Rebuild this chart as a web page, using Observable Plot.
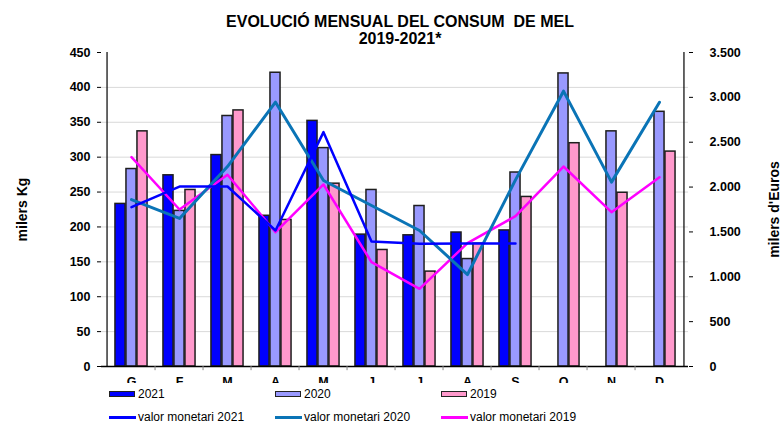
<!DOCTYPE html>
<html>
<head>
<meta charset="utf-8">
<script src="https://cdn.jsdelivr.net/npm/d3@7"></script>
<script src="https://cdn.jsdelivr.net/npm/@observablehq/plot@0.6"></script>
<style>
  body { margin: 0; background: #fff; font-family: "Liberation Sans", Arial, sans-serif; }
  #wrap { position: relative; width: 784px; height: 423px; overflow: hidden; background: #fff; }
  #title { position: absolute; top: 13px; left: 0; width: 800px; text-align: center; font-weight: bold; font-size: 16px; line-height: 17px; z-index: 2; color: #000; }
  #chart { position: absolute; top: 0; left: 0; }
  .lg { position: absolute; font-size: 12px; line-height: 14px; color: #000; white-space: nowrap; }
  .sw { position: absolute; width: 24px; height: 4px; border: 1.5px solid #222; }
  .ln { position: absolute; width: 27px; height: 3px; }
</style>
</head>
<body>
<div id="wrap">
  <div id="title">EVOLUCIÓ MENSUAL DEL CONSUM&nbsp; DE MEL<br>2019-2021*</div>
  <div id="chart"></div>
  <div id="legend"></div>
</div>
<script>
// ---- data ----
const monthLabels = ["G", "F", "M", "A", "M", "J", "J", "A", "S", "O", "N", "D"];
// milers de Kg (left axis)
const kg2021 = [233, 274, 303, 216, 352, 189, 188, 192, 195, null, null, null];
const kg2020 = [283, 223, 359, 421, 313, 253, 230, 154, 278, 420, 337, 365];
const kg2019 = [337, 253, 367, 210, 262, 167, 136, 176, 243, 320, 249, 308];
// milers d'Euros (right axis)
const eur2021 = [1776, 2006, 2006, 1516, 2612, 1393, 1367, 1371, 1371, null, null, null];
const eur2020 = [1861, 1650, 2229, 2946, 2073, 1795, 1516, 1025, 2080, 3069, 2055, 2946];
const eur2019 = [2333, 1750, 2137, 1497, 2029, 1163, 866, 1375, 1676, 2229, 1720, 2110];
const kgTicks = [0, 50, 100, 150, 200, 250, 300, 350, 400, 450];
const eurTicks = [0, 500, 1000, 1500, 2000, 2500, 3000, 3500];

const colors = {b2021: "#0000ff", b2020: "#9999ff", b2019: "#ff99cc", l2021: "#0000ff", l2020: "#0a74b6", l2019: "#ff00ff"};

// ---- layout ----
const W = 784, H = 383, mL = 101, mR = 96, mT = 52, mB = 17;
const bw = (W - mL - mR) / monthLabels.length;
const barW = 11;
const groupPad = (bw - 3 * barW) / 2;
const k = kgTicks[kgTicks.length - 1] / eurTicks[eurTicks.length - 1];
const idx = d3.range(monthLabels.length);

const rows = (arr, scale = 1) => arr.map((v, i) => ({i, v: v == null ? null : v * scale})).filter(d => d.v != null);
const fmtEur = v => d3.format(",")(v).replace(/,/g, ".");

const barOpts = (n, fill) => ({
  x: "i", y: "v", fill, stroke: "#1e1e1e", strokeWidth: 1.5,
  insetLeft: groupPad + n * barW, insetRight: bw - groupPad - (n + 1) * barW
});

const plot = Plot.plot({
  width: W, height: H,
  marginTop: mT, marginBottom: mB, marginLeft: mL, marginRight: mR,
  style: {fontFamily: "'Liberation Sans', Arial, sans-serif", fontSize: "12.5px", fontWeight: "bold", overflow: "hidden", background: "white", color: "#000"},
  x: {type: "band", domain: idx, padding: 0, label: null},
  y: {domain: [0, 450], label: null},
  marks: [
    Plot.gridY(kgTicks.filter(t => t > 0 && t < 450), {stroke: "#d9d9d9", strokeOpacity: 1, strokeWidth: 1}),
    Plot.barY(rows(kg2021), barOpts(0, colors.b2021)),
    Plot.barY(rows(kg2020), barOpts(1, colors.b2020)),
    Plot.barY(rows(kg2019), barOpts(2, colors.b2019)),
    Plot.ruleY([0], {stroke: "#000", strokeWidth: 1.5}),
    Plot.ruleX([0], {x: d => d, dx: -bw / 2, stroke: "#000", strokeWidth: 1.2}),
    Plot.ruleX([idx.length - 1], {x: d => d, dx: bw / 2, stroke: "#000", strokeWidth: 1.2}),
    Plot.ruleX(idx.slice(1), {x: d => d, dx: -bw / 2, y1: 0, y2: -6, stroke: "#888"}),
    Plot.line(rows(eur2019, k), {x: "i", y: "v", stroke: colors.l2019, strokeWidth: 2.5}),
    Plot.line(rows(eur2020, k), {x: "i", y: "v", stroke: colors.l2020, strokeWidth: 3}),
    Plot.line(rows(eur2021, k), {x: "i", y: "v", stroke: colors.l2021, strokeWidth: 2.5}),
    Plot.axisY({anchor: "left", ticks: kgTicks, tickSize: 4, tickPadding: 7, tickFormat: d => d, label: null}),
    Plot.axisY({anchor: "right", ticks: eurTicks.map(v => v * k), tickSize: 4, tickPadding: 17, tickFormat: d => fmtEur(Math.round(d / k)), label: null}),
    Plot.axisX({tickSize: 0, tickPadding: 11, tickFormat: i => monthLabels[i], label: null}),
    Plot.text(["milers Kg"], {frameAnchor: "left", textAnchor: "middle", rotate: -90, dx: -79, fontSize: 14, fontWeight: "bold"}),
    Plot.text(["milers d'Euros"], {frameAnchor: "right", textAnchor: "middle", rotate: -90, dx: 86, fontSize: 14, fontWeight: "bold"})
  ]
});
document.getElementById("chart").appendChild(plot);

// ---- legend ----
const legend = document.getElementById("legend");
const barItems = [["2021", colors.b2021], ["2020", colors.b2020], ["2019", colors.b2019]];
const lineItems = [["valor monetari 2021", colors.l2021], ["valor monetari 2020", colors.l2020], ["valor monetari 2019", colors.l2019]];
const lx = [109, 275, 441];
barItems.forEach(([t, c], j) => {
  const sw = document.createElement("div");
  sw.className = "sw";
  sw.style.left = lx[j] + "px"; sw.style.top = "390.5px"; sw.style.background = c;
  legend.appendChild(sw);
  const tx = document.createElement("div");
  tx.className = "lg"; tx.textContent = t;
  tx.style.left = (lx[j] + 29) + "px"; tx.style.top = "386.5px";
  legend.appendChild(tx);
});
lineItems.forEach(([t, c], j) => {
  const ln = document.createElement("div");
  ln.className = "ln";
  ln.style.left = lx[j] + "px"; ln.style.top = "415.5px"; ln.style.background = c;
  legend.appendChild(ln);
  const tx = document.createElement("div");
  tx.className = "lg"; tx.textContent = t;
  tx.style.left = (lx[j] + 29) + "px"; tx.style.top = "410px";
  legend.appendChild(tx);
});
</script>
</body>
</html>
